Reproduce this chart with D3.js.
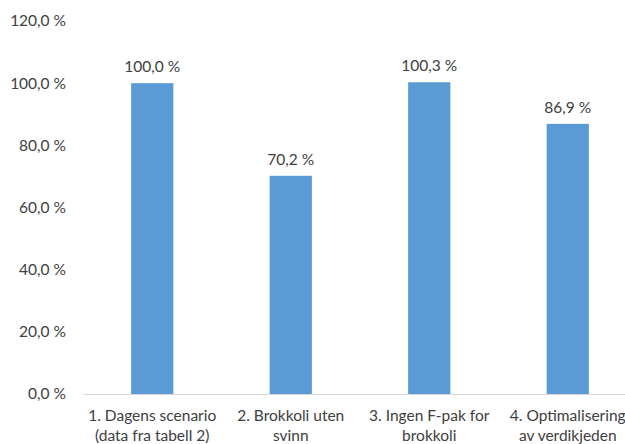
<!DOCTYPE html>
<html>
<head>
<meta charset="utf-8">
<script src="https://cdn.jsdelivr.net/npm/d3@7"></script>
<style>
  html, body { margin: 0; padding: 0; background: #fff; }
  svg { display: block; }
  text { font-family: Lato, "Open Sans", sans-serif; fill: #404040; }
</style>
</head>
<body>
<svg id="chart" width="625" height="444"></svg>
<script>
// Scenario categories (two-line labels)
const categories = [
  ["1. Dagens scenario", "(data fra tabell 2)"],
  ["2. Brokkoli uten", "svinn"],
  ["3. Ingen F-pak for", "brokkoli"],
  ["4. Optimalisering", "av verdikjeden"]
];
// Relative values in percent
const values = [100.0, 70.2, 100.3, 86.9];
// Y axis ticks in percent
const yTicks = [0, 20, 40, 60, 80, 100, 120];

const svg = d3.select("#chart");
const margin = { left: 83, top: 21, bottom: 50 };
const plotWidth = 554;
const height = 444;
const y0 = height - margin.bottom;
const fontSize = "15.5px";

const fmt = v => d3.format(".1f")(v).replace(".", ",") + " %";

const x = d3.scaleBand()
  .domain(d3.range(categories.length))
  .range([margin.left, margin.left + plotWidth])
  .paddingInner(0.695)
  .paddingOuter(0.3475);

const y = d3.scaleLinear()
  .domain([0, 120])
  .range([y0, margin.top]);

// Y axis labels only (no line, no ticks)
const yAxis = d3.axisLeft(y)
  .tickValues(yTicks)
  .tickFormat(fmt)
  .tickSize(0)
  .tickPadding(0);

svg.append("g")
  .attr("transform", `translate(66,0)`)
  .call(yAxis)
  .call(g => g.select(".domain").remove())
  .call(g => g.selectAll("text")
    .style("font-size", fontSize)
    .attr("fill", "#404040")
    .attr("font-family", "Lato, 'Open Sans', sans-serif"));

// Bars
svg.append("g")
  .selectAll("rect")
  .data(values)
  .join("rect")
  .attr("x", (d, i) => x(i))
  .attr("y", d => y(d))
  .attr("width", x.bandwidth())
  .attr("height", d => y(0) - y(d))
  .attr("fill", "#5b9bd5");

// Value labels above bars
svg.append("g")
  .selectAll("text")
  .data(values)
  .join("text")
  .attr("x", (d, i) => x(i) + x.bandwidth() / 2)
  .attr("y", d => y(d) - 11)
  .attr("text-anchor", "middle")
  .style("font-size", fontSize)
  .text(d => fmt(d));

// X axis baseline
const xAxis = d3.axisBottom(x)
  .tickSize(0)
  .tickFormat("");

const gx = svg.append("g")
  .attr("transform", `translate(0,${y0})`)
  .call(xAxis);
gx.select(".domain")
  .attr("d", `M${margin.left},0.5H625`)
  .attr("stroke", "#d9d9d9")
  .attr("stroke-width", 1);

// Category labels, two lines each
gx.selectAll(".tick").each(function(d) {
  const t = d3.select(this).select("text")
    .attr("y", 0)
    .attr("dy", null)
    .attr("fill", "#404040")
    .style("font-size", fontSize)
    .attr("font-family", "Lato, 'Open Sans', sans-serif");
  t.selectAll("tspan")
    .data(categories[d])
    .join("tspan")
    .attr("x", 0)
    .attr("y", (s, j) => 27 + j * 20)
    .text(s => s);
});
</script>
</body>
</html>
